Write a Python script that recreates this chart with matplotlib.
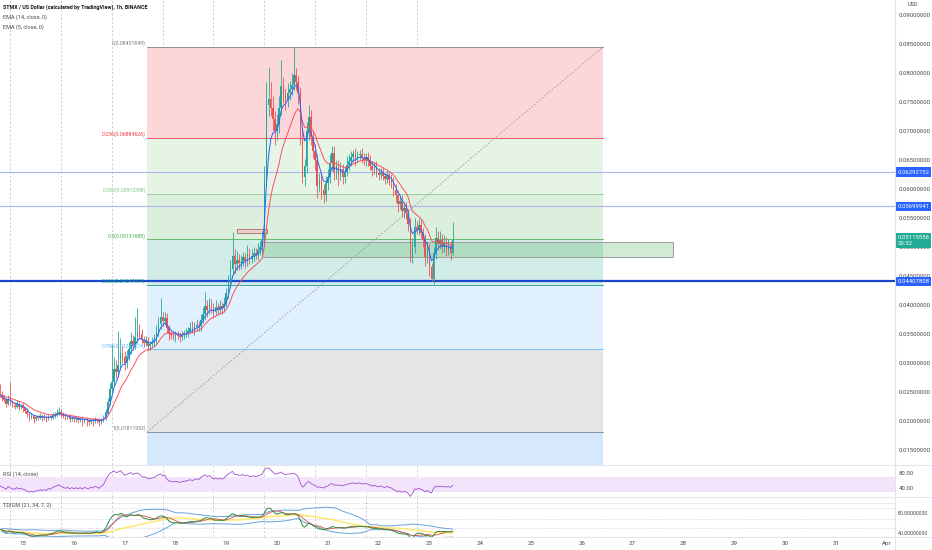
import numpy as np
import pandas as pd
import matplotlib
matplotlib.use("Agg")
import matplotlib.pyplot as plt
import matplotlib.transforms as mtrans
from matplotlib.patches import Rectangle

plt.rcParams['font.family'] = ['Roboto', 'DejaVu Sans']

# ---------------- data (prices in units of 1e-4 USD), hourly candles ----------------
first_open = 250
closes = [245, 240, 236, 230, 238, 232,
          228, 225, 230, 224, 226, 222, 218,
          212, 206, 208, 204, 207,
          206, 209, 205, 207, 204, 208, 206, 210, 212,
          214, 216, 212,
          209, 206, 208, 204, 206, 203, 205,
          202, 204, 200, 203, 201, 199, 202, 200, 203, 201, 198,
          202, 205,
          215, 232, 255, 268,
          290, 284, 296,
          318, 310, 300,
          312, 325, 338, 330, 345, 355, 350,
          340, 335, 338, 330,
          332, 336, 340,
          355, 368, 380, 372, 378,
          360, 350,
          348, 345, 350, 347, 344, 348, 351,
          352, 356, 360, 357, 362, 366, 364,
          375, 385, 398, 392, 400,
          395, 388, 396, 392, 398, 394, 402,
          420, 440, 462,
          485, 470, 478, 472,
          475, 482, 476, 488, 480, 485, 490, 487, 495,
          500, 512,
          620, 745, 755,
          740, 720, 700, 712,
          740, 778,
          760, 752, 765,
          772, 780, 796, 785, 765,
          690, 620, 640,
          700, 725,
          690, 665, 650,
          605,
          615, 598, 590, 610, 620,
          645, 662, 630, 640,
          625, 635, 620, 630, 642,
          648, 655, 660, 652, 658,
          660, 654, 650, 656, 648,
          640, 632, 638, 628, 625, 630,
          622, 618, 624, 615, 612,
          598, 590, 575, 580,
          562, 568, 558,
          540, 482, 500,
          535, 530, 538,
          525, 512, 482, 495,
          465, 445,
          490, 515, 505,
          512, 500, 508, 495, 502, 490,
          511.6]
wick_up = [14, 6, 5, 4, 6, 30,
           5, 4, 6, 3, 4, 5, 4,
           4, 3, 5, 3, 4,
           3, 4, 3, 5, 3, 4, 3, 5, 4,
           6, 8, 4,
           3, 4, 3, 4, 3, 4, 3,
           4, 3, 5, 3, 4, 3, 4, 3, 4, 3, 4,
           4, 5,
           6, 8, 10, 65,
           20, 15, 60,
           25, 12, 10,
           10, 12, 15, 10, 35, 40, 12,
           8, 6, 8, 6,
           6, 8, 10,
           10, 12, 32, 8, 10,
           8, 6,
           6, 8, 6, 5, 6, 8, 6,
           8, 6, 10, 12, 8, 10, 6,
           10, 12, 25, 10, 12,
           10, 8, 12, 8, 10, 8, 12,
           10, 12, 15,
           40, 12, 15, 10,
           12, 10, 8, 15, 10, 12, 10, 8, 12,
           10, 15,
           20, 40, 55,
           30, 20, 15, 18,
           20, 44,
           15, 12, 18,
           15, 20, 49, 12, 10,
           10, 15, 12,
           15, 20,
           12, 10, 12,
           10,
           12, 15, 10, 12, 15,
           15, 12, 12, 10,
           10, 12, 8, 10, 15,
           12, 10, 8, 10, 8,
           8, 10, 8, 6, 8,
           10, 8, 8, 10, 8, 6,
           8, 6, 8, 6, 10,
           8, 10, 8, 10,
           10, 8, 10,
           8, 10, 15,
           15, 10, 12,
           10, 8, 10, 15,
           10, 8,
           10, 20, 12,
           15, 10, 12, 10, 12, 8,
           31]
wick_dn = [4, 5, 4, 6, 3, 5,
           4, 5, 3, 5, 4, 6, 4,
           5, 6, 3, 8, 4,
           4, 3, 5, 3, 6, 3, 4, 3, 4,
           3, 4, 5,
           4, 5, 3, 6, 4, 5, 4,
           5, 4, 8, 4, 10, 6, 4, 8, 3, 5, 6,
           3, 3,
           3, 4, 5, 6,
           8, 10, 6,
           8, 10, 12,
           8, 6, 10, 8, 6, 10, 8,
           6, 8, 5, 10,
           8, 5, 6,
           6, 8, 10, 8, 6,
           8, 10,
           6, 5, 8, 6, 7, 5, 6,
           6, 8, 5, 6, 8, 6, 8,
           8, 6, 10, 12, 8,
           8, 10, 6, 8, 7, 10, 6,
           6, 8, 10,
           10, 15, 10, 12,
           10, 8, 12, 8, 10, 8, 10, 8, 10,
           8, 10,
           10, 15, 20,
           15, 20, 25, 15,
           15, 12,
           12, 15, 10,
           12, 10, 10, 15, 18,
           15, 10, 15,
           12, 15,
           15, 12, 18,
           20,
           10, 15, 14, 10, 12,
           10, 12, 15, 12,
           20, 10, 12, 10, 8,
           10, 8, 10, 12, 8,
           8, 10, 8, 10, 8,
           8, 10, 6, 8, 10, 8,
           6, 10, 8, 8, 10,
           10, 12, 15, 10,
           10, 12, 10,
           12, 8, 10,
           10, 8, 10,
           10, 12, 15, 10,
           15, 3,
           8, 10, 8,
           8, 10, 8, 10, 8, 12,
           4]

fib_high = 0.08451849
fib_low = 0.01811932
fib_ratios = [0, 0.236, 0.382, 0.5, 0.618, 0.786, 1, 1.618]
fib_labels = ["0(0.08451849)", "0.236(0.06884626)", "0.382(0.05915398)", "0.5(0.05131688)",
              "0.618(0.04347979)", "0.786(0.03232874)", "1(0.01811932)", ""]
h_levels = [0.06292732, 0.05699941, 0.04407808]
last_price = "0.05115556"
countdown = "20:32"
day_ticks = list(range(15, 33))
day_labels = [str(d) for d in range(15, 32)] + ["Apr"]

# ---------------- derived ----------------
c = np.array(closes, dtype=float) / 1e4
n = len(c)
o = np.r_[first_open / 1e4, c[:-1]]
hi = np.maximum(o, c) + np.array(wick_up[:n]) / 1e4
lo = np.minimum(o, c) - np.array(wick_dn[:n]) / 1e4
x = 14.5 + (np.arange(n) + 1) / 24.0
up = c >= o
cs = pd.Series(c)
ema14 = cs.ewm(span=14, adjust=False).mean()
ema5 = cs.ewm(span=5, adjust=False).mean()


def rsi(s, p):
    d = np.diff(np.r_[first_open / 1e4, s.values])
    seed = np.mean(np.abs(d[:p])) / 2
    g = l_ = seed
    out = []
    for v in d:
        g = g + (max(v, 0) - g) / p
        l_ = l_ + (max(-v, 0) - l_) / p
        out.append(100 - 100 / (1 + g / l_) if l_ > 0 else 100)
    return pd.Series(out)


rsi14 = rsi(cs, 14)
rsi21 = rsi(cs, 21)
base = rsi21.rolling(34, min_periods=2).mean()
sd = rsi21.rolling(34, min_periods=2).std()
band_up = base + 1.6185 * sd
band_dn = base - 1.6185 * sd
fast = rsi21.rolling(2, min_periods=1).mean()
slow = rsi21.rolling(7, min_periods=1).mean()

# ---------------- layout ----------------
W, H = 932, 550
fig = plt.figure(figsize=(W / 100, H / 100), dpi=100)
fig.patch.set_facecolor('white')
axr = 895 / W
ax = fig.add_axes([0, 1 - 465 / H, axr, 465 / H])
ax2 = fig.add_axes([0, 1 - 497 / H, axr, 31 / H])
ax3 = fig.add_axes([0, 1 - 537 / H, axr, 39 / H])

xmin, xmax = 15 - 23 / 50.8, 15 + 872 / 50.8
for a in (ax, ax2, ax3):
    a.set_xlim(xmin, xmax)
    for s in a.spines.values():
        s.set_visible(False)
    a.tick_params(axis='x', length=0, labelbottom=False)
    a.yaxis.tick_right()
    a.tick_params(axis='y', length=0, labelsize=4.3, labelcolor='#4a4a4a', pad=2.5)
    for d in range(15, 24):
        a.axvline(d - 0.25, color='#b8bbc3', lw=0.5, ls=(0, (3, 3)), zorder=0)

ax.set_ylim(0.085 - 421 / 5800, 0.085 + 44 / 5800)
ax.set_yticks(np.arange(0.015, 0.0901, 0.005))
ax.set_yticklabels([f"{v:.8f}" for v in np.arange(0.015, 0.0901, 0.005)])

# fib retracement
fx0, fx1 = 15 + 124 / 50.8, 15 + 580 / 50.8
rng = fib_high - fib_low
levels = [fib_high - r * rng for r in fib_ratios]
fill_cols = ['#fcd7da', '#e6f4e6', '#dbefdc', '#d2ece8', '#e0f0fd', '#e4e5e7', '#d6e8fc']
line_cols = ['#787b86', '#f23645', '#81c784', '#4caf50', '#089981', '#64b5f6', '#787b86', '#2962ff']
for i in range(len(levels) - 1):
    ax.fill_between([fx0, fx1], levels[i + 1], levels[i], color=fill_cols[i], lw=0, zorder=0.5)
for i in range(len(levels) - 1):
    ax.plot([fx0, fx1], [levels[i]] * 2, color=line_cols[i], lw=0.7, alpha=0.8, zorder=0.6)
    ax.text(fx0 - 0.02, levels[i] + 0.0001, fib_labels[i], ha='right', va='bottom',
            fontsize=3.7, color=line_cols[i], zorder=3)
ax.plot([fx0, fx1], [fib_low, fib_high], color='#9598a1', lw=0.6, ls=(0, (2, 2)), zorder=0.7)

# horizontal lines
hl_w = [0.8, 0.8, 1.6]
hl_c = ['#aab6ee', '#aab6ee', '#1848cc']
for v, w_, col in zip(h_levels, hl_w, hl_c):
    ax.axhline(v, color=col, lw=w_, zorder=1)

# rectangles
gx0, gx1 = 15 + 239 / 50.8, 15 + 650 / 50.8
ax.add_patch(Rectangle((gx0, 0.04828), gx1 - gx0, 0.05086 - 0.04828, fc=(0.298, 0.686, 0.314, 0.25),
                       ec='#9e9e9e', lw=0.7, zorder=1.2))
rx0, rx1 = 15 + 214 / 50.8, 15 + 244 / 50.8
ax.add_patch(Rectangle((rx0, 0.05241), rx1 - rx0, 0.0531 - 0.05241, fc='#ead0cc',
                       ec='#b47a74', lw=0.7, zorder=1.2))

# candles
col = np.where(up, '#26a69a', '#ef5350')
ax.vlines(x, lo, hi, colors=col, lw=0.6, zorder=2)
body = np.maximum(np.abs(c - o), 0.00008)
ax.bar(x, body, bottom=np.minimum(o, c), width=0.72 / 24, color=col, lw=0, zorder=2.1)
ax.plot(x, ema14, color='#f7525f', lw=0.7, zorder=2.3)
ax.plot(x, ema5, color='#2962ff', lw=0.7, zorder=2.4)

# right-axis labels
bt = mtrans.blended_transform_factory(ax.transAxes, ax.transData)
for v in h_levels:
    ax.text(1.0025, v, f"{v:.8f}", transform=bt, ha='left', va='center', fontsize=4.3, color='white',
            bbox=dict(boxstyle='square,pad=0.35', fc='#2962ff', ec='none'), zorder=10, clip_on=False)
ax.text(1.0025, c[-1], f"{last_price}\n{countdown}", transform=bt, ha='left', va='center', fontsize=4.3,
        color='white', linespacing=1.3,
        bbox=dict(boxstyle='square,pad=0.35', fc='#22ab94', ec='none'), zorder=10, clip_on=False)

# RSI pane
ax2.set_ylim(16, 98.67)
ax2.axhspan(30, 70, color='#f1e4fb', lw=0, zorder=0.2)
ax2.plot(x, rsi14, color='#a24fd0', lw=0.6)
ax2.set_yticks([40, 80])
ax2.set_yticklabels(['40.00', '80.00'])

# TDIGM pane
ax3.set_ylim(32, 110)
for lv in [100, 90, 68, 50]:
    ax3.axhline(lv, color='#b2b5be', lw=0.5, ls=(0, (1, 2)), zorder=0.2)
ax3.plot(x, band_up, color='#6aa3d8', lw=0.7)
ax3.plot(x, band_dn, color='#6aa3d8', lw=0.7)
ax3.plot(x, base, color='#ffe34d', lw=1.1, alpha=0.8)
ax3.plot(x, slow, color='#e0504a', lw=0.6)
ax3.plot(x, fast, color='#2e8b3a', lw=0.7)
ax3.set_yticks([40, 80])
ax3.set_yticklabels(['40.00000000', '80.00000000'])
ax3.tick_params(axis='y', labelsize=3.9, pad=2)
ax3.set_xticks(day_ticks)
ax3.set_xticklabels(day_labels)
ax3.tick_params(axis='x', labelbottom=True, labelsize=4.5, labelcolor='#4a4a4a', pad=3)

# separators
for yy in (465, 497, 537):
    fig.add_artist(plt.Line2D([0, 1], [1 - yy / H, 1 - yy / H], color='#e3e5ea', lw=0.8))
fig.add_artist(plt.Line2D([axr, axr], [0, 1], color='#e3e5ea', lw=0.8))

# texts
fig.text(3 / W, 1 - 7 / H, "STMX / US Dollar (calculated by TradingView), 1h, BINANCE", fontsize=3.9,
         color='#131722', weight='bold', va='center')
fig.text(3 / W, 1 - 17 / H, "EMA (14, close, 0)", fontsize=4.0, color='#4a4a4a', va='center')
fig.text(3 / W, 1 - 27 / H, "EMA (5, close, 0)", fontsize=4.0, color='#4a4a4a', va='center')
fig.text(3 / W, 1 - 474 / H, "RSI (14, close)", fontsize=4.0, color='#4a4a4a', va='center')
fig.text(3 / W, 1 - 505 / H, "TDIGM (21, 34, 7, 2)", fontsize=4.0, color='#4a4a4a', va='center')
fig.text(913 / W, 1 - 5 / H, "USD", fontsize=4.0, color='#4a4a4a', ha='center', va='center')

fig.savefig("out.png", dpi=100, facecolor='white')
